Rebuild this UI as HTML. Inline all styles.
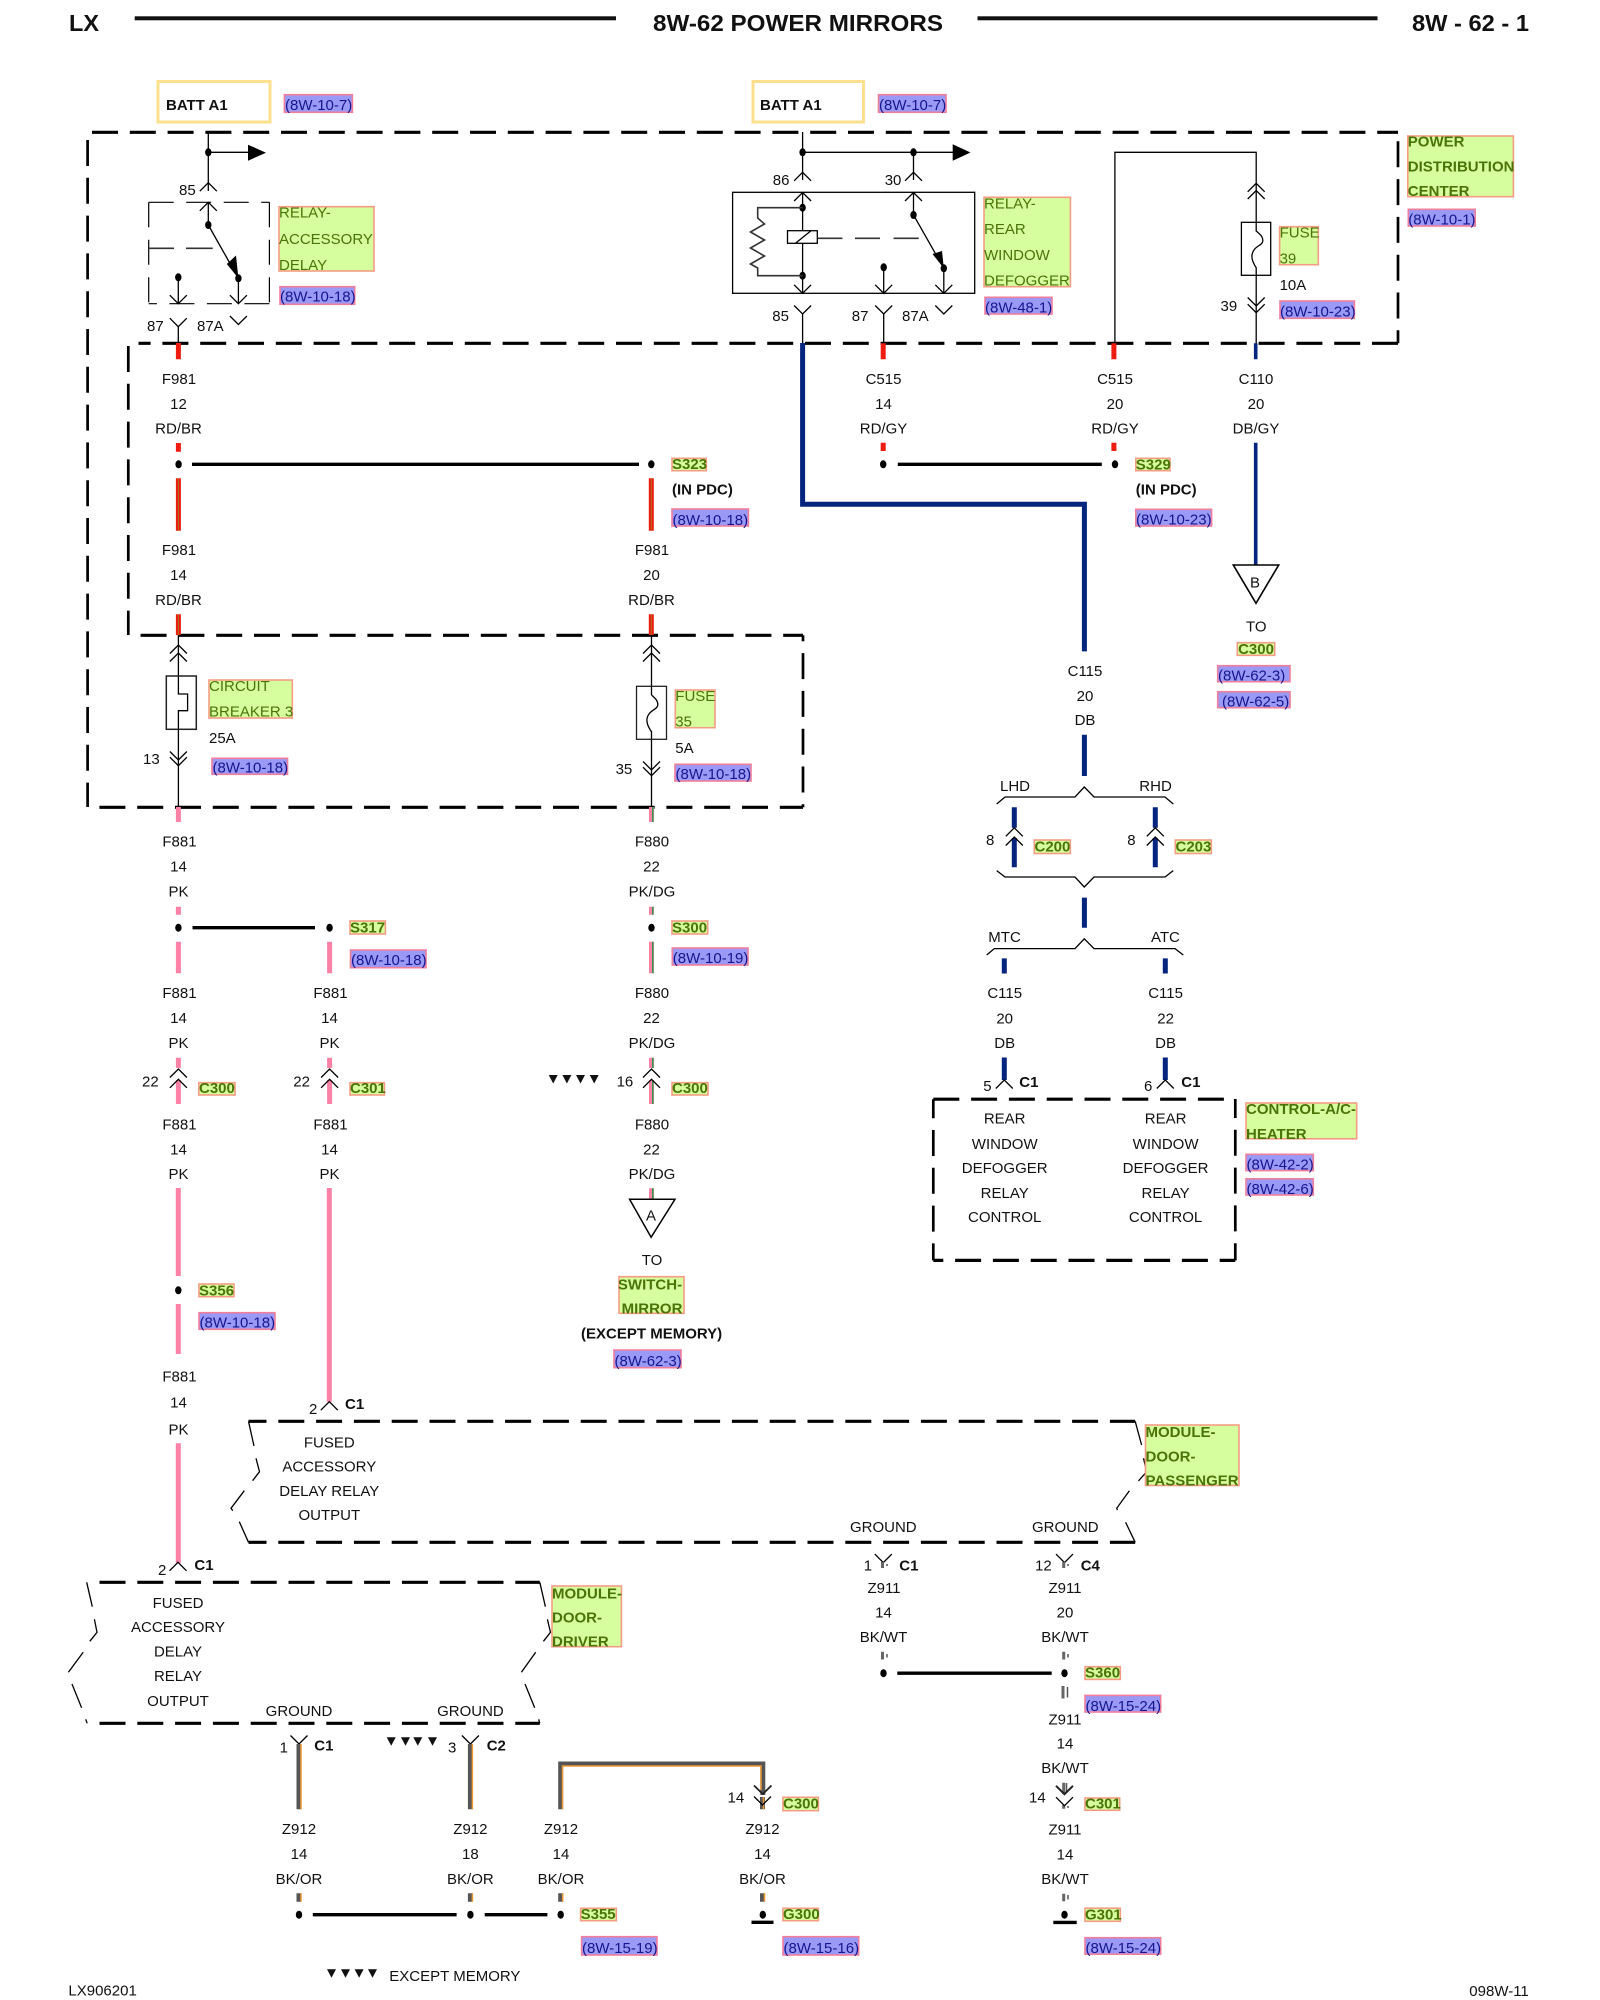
<!DOCTYPE html>
<html lang="en"><head><meta charset="utf-8"><title>8W-62 Power Mirrors</title>
<style>
html,body{margin:0;padding:0;background:#fff;width:1600px;height:2000px;overflow:hidden}
svg{display:block}
text{font-family:"Liberation Sans",Arial,sans-serif;font-size:15px;fill:#111}
.m{text-anchor:middle}
.bd{font-weight:bold}
.lg{fill:#4a7408}
.lb{fill:#4a7408;font-weight:bold}
.rf{fill:#15158f}
.g{fill:#d6fe9e;stroke:#f59c84;stroke-width:1.6}
.b{fill:#9a9af6;stroke:#f07f9c;stroke-width:1.6}
.da{fill:none;stroke:#000;stroke-width:3.2;stroke-dasharray:26 11.8}
.dv{fill:none;stroke:#000;stroke-width:2.7;stroke-dasharray:26 11.8}
.th{fill:none;stroke:#000;stroke-width:1.3}
.thg{fill:none;stroke:#333;stroke-width:1.6}
.sp{stroke:#000;stroke-width:3.4}
.rd{stroke:#ee1c10;stroke-width:5}
.rb{stroke:#a8701c;stroke-width:1}
.pk{stroke:#fb82a6;stroke-width:5}
.dg{stroke:#2a9a4a;stroke-width:1.5}
.db{stroke:#04247e;stroke-width:5}
.dk{stroke:#555;stroke-width:5}
.or{stroke:#f09a30;stroke-width:1.5}
.wt{stroke:#666;stroke-width:3}
.rl{fill:none;stroke:#000;stroke-width:1.2;stroke-dasharray:25 12.5}
</style></head><body>
<svg xmlns="http://www.w3.org/2000/svg" width="1600" height="2000" viewBox="0 0 1600 2000">
<defs>
<path id="cu" d="M-8.5 8.5L0 0L8.5 8.5" fill="none" stroke="#000" stroke-width="1.3"/>
<path id="cd" d="M-8.5 -8.5L0 0L8.5 -8.5" fill="none" stroke="#000" stroke-width="1.3"/>
<ellipse id="dot" cx="0" cy="0" rx="3.2" ry="4" fill="#000"/>
<path id="tri" d="M0 0H9L4.5 8.5Z" fill="#111"/>
</defs>
<rect width="1600" height="2000" fill="#fff"/>

<!-- header -->
<text x="69" y="31" class="bd" style="font-size:23px" textLength="30" lengthAdjust="spacingAndGlyphs">LX</text>
<rect x="134.7" y="16.3" width="481.3" height="4" fill="#111"/>
<text x="653" y="31" class="bd" style="font-size:23px" textLength="290" lengthAdjust="spacingAndGlyphs">8W-62 POWER MIRRORS</text>
<rect x="977.5" y="16.3" width="400" height="4" fill="#111"/>
<text x="1412" y="31" class="bd" style="font-size:23px" textLength="117" lengthAdjust="spacingAndGlyphs">8W - 62 - 1</text>

<!-- BATT -->
<rect x="158" y="81.5" width="112" height="40.5" fill="#fff" stroke="#fde08e" stroke-width="3"/>
<text x="166" y="110" class="bd">BATT A1</text>
<rect x="284.4" y="94.7" width="68" height="17.6" class="b"/><text x="285" y="110" class="rf">(8W-10-7)</text>
<rect x="753" y="81.5" width="110.5" height="40.5" fill="#fff" stroke="#fde08e" stroke-width="3"/>
<text x="760" y="110" class="bd">BATT A1</text>
<rect x="878.5" y="94.7" width="67.5" height="17.6" class="b"/><text x="879" y="110" class="rf">(8W-10-7)</text>

<!-- outer dashed PDC -->
<path class="da" d="M92 132.3H1398"/>
<path class="dv" d="M87.6 140V807"/>
<path class="dv" d="M1398 132.3V343.3" style="stroke-dashoffset:28.8"/>
<path class="da" d="M1398 343.3H138.5"/>
<path class="dv" d="M128.3 346V635"/>
<path class="da" d="M140.6 635.3H803"/>
<path class="dv" d="M803 635.3V807.3" style="stroke-dashoffset:20"/>
<path class="da" d="M99.4 807.3H803"/>

<!-- relay accessory delay -->
<path class="th" d="M208.3 132V191M208.3 202V225M208.3 152.3H250"/>
<use href="#dot" x="208.3" y="152.3"/>
<path d="M248 144.7L266 152.7L248 160.7Z" fill="#000"/>
<use href="#cu" x="208.3" y="182.7"/>
<text x="179" y="195">85</text>
<path class="rl" d="M148.7 202.3H269.4"/>
<path class="rl" d="M148.7 202.3V303.7"/>
<path class="rl" d="M269.4 202.3V303.7"/>
<path class="rl" d="M269.4 303.7H148.7"/>
<use href="#cu" x="208.3" y="202.3"/>
<use href="#dot" x="208.3" y="225"/>
<path class="th" d="M208.3 225L238.4 278.3"/>
<path d="M226.8 264L236 255.5L238.4 278.3Z" fill="#000"/>
<use href="#dot" x="238.4" y="278.3"/>
<path class="thg" d="M148.7 248.3H174M186 248.3H212.7"/>
<use href="#dot" x="178.3" y="277.3"/>
<path class="th" d="M178.3 277V303.7M238.4 278V303.7"/>
<use href="#cd" x="178.3" y="303.7"/><use href="#cd" x="238.4" y="303.7"/>
<use href="#cd" x="178.3" y="326.7"/><path class="th" d="M178.3 326.7V344"/>
<use href="#cd" x="238.4" y="324.5"/>
<text x="147" y="331">87</text><text x="197" y="331">87A</text>
<rect x="279" y="206.7" width="95" height="64.3" class="g"/>
<text x="279" y="217.7" class="lg">RELAY-</text><text x="279" y="244" class="lg">ACCESSORY</text><text x="279" y="270" class="lg">DELAY</text>
<rect x="280" y="286.7" width="74.7" height="17.6" class="b"/><text x="280" y="301.7" class="rf">(8W-10-18)</text>

<!-- relay rear window defogger -->
<path class="th" d="M802.6 132V180M802.6 152.3H954M913.5 152.3V180"/>
<use href="#dot" x="802.6" y="152.3"/><use href="#dot" x="913.5" y="152.3"/>
<path d="M952.7 144.3L970.5 152.5L952.7 160.7Z" fill="#000"/>
<use href="#cu" x="802.6" y="172.3"/><use href="#cu" x="913.5" y="172.3"/>
<text x="772.8" y="185">86</text><text x="884.7" y="185">30</text>
<rect x="732.6" y="192.3" width="242.1" height="101" fill="#fff" stroke="#000" stroke-width="1.3"/>
<use href="#cu" x="802.6" y="192.5"/><use href="#cu" x="913.5" y="192.5"/>
<path class="th" d="M802.6 192.5V293.3M913.5 192.5V215L943.8 268.3V293.3M883.7 267V293.3"/>
<use href="#dot" x="802.6" y="207.7"/><use href="#dot" x="802.6" y="275.7"/><use href="#dot" x="913.5" y="215"/><use href="#dot" x="883.7" y="267.3"/><use href="#dot" x="943.8" y="268.3"/>
<path class="thg" d="M802.6 207.7H757.7V218L764.5 224L750.5 232L764.5 240L750.5 248L764.5 256L750.5 264L757.7 268V275.7H802.6"/>
<path d="M932.5 254L942 251L943.8 268.3Z" fill="#000"/>
<rect x="787.5" y="230.7" width="29.8" height="12.6" fill="#fff" stroke="#000" stroke-width="1.3"/>
<path class="th" d="M795.5 243.3L811 230.7"/>
<path class="thg" d="M817.3 238.3H842.4M855 238.3H880M893.6 238.3H918.7"/>
<use href="#cd" x="802.6" y="293.3"/><use href="#cd" x="883.7" y="293.3"/><use href="#cd" x="943.8" y="293.3"/>
<use href="#cd" x="802.6" y="314"/><use href="#cd" x="883.7" y="314"/><use href="#cd" x="943.8" y="314"/>
<path class="th" d="M802.6 314V344M883.7 314V344"/>
<text x="772.3" y="321">85</text><text x="851.8" y="321">87</text><text x="902" y="321">87A</text>
<rect x="984" y="197.3" width="86.4" height="89.4" class="g"/>
<text x="984" y="208.3" class="lg">RELAY-</text><text x="984" y="234" class="lg">REAR</text><text x="984" y="260" class="lg">WINDOW</text><text x="984" y="285.7" class="lg">DEFOGGER</text>
<rect x="985" y="297.3" width="67" height="16.7" class="b"/><text x="985" y="312.3" class="rf">(8W-48-1)</text>

<!-- fuse 39 -->
<path class="th" d="M1114.9 344V152.3H1256.2V222.3M1256.2 275V343.5"/>
<use href="#cu" x="1256.2" y="183.3"/><use href="#cu" x="1256.2" y="190.5"/>
<rect x="1241.4" y="222.3" width="29.3" height="53" fill="#fff" stroke="#000" stroke-width="1.3"/>
<path class="th" d="M1256.2 222.3V231C1261 235 1263 237 1262.8 241C1262.5 245 1256.2 246 1254 250C1251 254 1251 260 1256.2 267.7V275.3"/>
<use href="#cd" x="1256.2" y="306"/><use href="#cd" x="1256.2" y="312.7"/>
<rect x="1279.6" y="226.7" width="38.7" height="38" class="g"/>
<text x="1279.6" y="237.7" class="lg">FUSE</text><text x="1279.6" y="263.3" class="lg">39</text>
<text x="1279.6" y="290">10A</text><text x="1220.5" y="311">39</text>
<rect x="1280" y="301" width="74.4" height="17.3" class="b"/><text x="1280" y="316.7" class="rf">(8W-10-23)</text>
<rect x="1407.8" y="136" width="105.6" height="60.7" class="g"/>
<text x="1407.8" y="146.7" class="lb">POWER</text><text x="1407.8" y="171.7" class="lb">DISTRIBUTION</text><text x="1407.8" y="196" class="lb">CENTER</text>
<rect x="1408.3" y="209.3" width="66.9" height="16.7" class="b"/><text x="1408.3" y="224.3" class="rf">(8W-10-1)</text>

<!-- F981 col A, B -->
<path class="rd" d="M178.4 343V359.3M178.4 443V451.7M178.4 478.3V530.7M178.4 614.3V635M651.3 478.3V530.7M651.3 614.3V635M883.2 343.3V359.3M883.2 442.7V451M1113.9 343.3V359.3M1113.9 442.7V451"/>
<path class="rb" d="M178.4 478.3V530.7M651.3 478.3V530.7M178.4 614.3V635M651.3 614.3V635"/>
<text x="179" y="384" class="m">F981</text><text x="178.5" y="409" class="m">12</text><text x="178.5" y="433.3" class="m">RD/BR</text>
<text x="179" y="555" class="m">F981</text><text x="178.5" y="580" class="m">14</text><text x="178.5" y="605" class="m">RD/BR</text>
<text x="652" y="555" class="m">F981</text><text x="651.5" y="580" class="m">20</text><text x="651.5" y="605" class="m">RD/BR</text>
<text x="883.5" y="384" class="m">C515</text><text x="883.5" y="409" class="m">14</text><text x="883.5" y="433.3" class="m">RD/GY</text>
<text x="1115" y="384" class="m">C515</text><text x="1115" y="409" class="m">20</text><text x="1115" y="433.3" class="m">RD/GY</text>
<text x="1256" y="384" class="m">C110</text><text x="1256" y="409" class="m">20</text><text x="1256" y="433.3" class="m">DB/GY</text>
<use href="#dot" x="178.6" y="464.3"/><use href="#dot" x="651.3" y="464.3"/>
<path class="sp" d="M192 464.3H639M897.8 464.3H1101.8"/>
<use href="#dot" x="883.2" y="464.3"/><use href="#dot" x="1115" y="464.3"/>
<rect x="672" y="458.3" width="34.3" height="12.4" class="g"/><text x="672" y="469" class="lb">S323</text>
<text x="672" y="494.3" class="bd">(IN PDC)</text>
<rect x="672" y="509" width="76.4" height="17" class="b"/><text x="672.5" y="525" class="rf">(8W-10-18)</text>
<rect x="1135.8" y="458.3" width="34.2" height="12.4" class="g"/><text x="1135.8" y="469.3" class="lb">S329</text>
<text x="1135.8" y="494.3" class="bd">(IN PDC)</text>
<rect x="1135.8" y="509.3" width="75.8" height="16.7" class="b"/><text x="1136" y="524.3" class="rf">(8W-10-23)</text>

<!-- DB main -->
<path d="M802.6 343V504.3H1084.4V651.4" fill="none" stroke="#04247e" stroke-width="5"/>
<path stroke="#04247e" stroke-width="3.6" d="M1255.7 343.3V359.3M1255.7 442.7V565"/>
<path d="M1233.3 565H1278.7L1256 603.3Z" fill="#fff" stroke="#000" stroke-width="1.6"/>
<text x="1255" y="587.3" class="m">B</text>
<text x="1256.3" y="631.3" class="m">TO</text>
<rect x="1237.3" y="642.7" width="37.4" height="12.6" class="g"/><text x="1256" y="654" class="lb m">C300</text>
<rect x="1217.7" y="665.7" width="72.3" height="16" class="b"/><text x="1218" y="680.5" class="rf">(8W-62-3)</text>
<rect x="1217.7" y="691.7" width="72.3" height="16" class="b"/><text x="1222" y="706.5" class="rf">(8W-62-5)</text>

<!-- fuses on 635-807 -->
<path class="th" d="M178.4 635V694H187.6V710.7H178.4V807M651.5 635V695M651.5 731V807"/>
<use href="#cu" x="178.4" y="645"/><use href="#cu" x="178.4" y="653"/><use href="#cu" x="651.5" y="645"/><use href="#cu" x="651.5" y="653"/>
<rect x="166.3" y="676" width="30" height="53.3" fill="none" stroke="#222" stroke-width="1.5"/>
<rect x="636.5" y="686.3" width="30" height="53" fill="none" stroke="#222" stroke-width="1.3"/>
<path class="th" d="M651.5 695C656 699 658 701 657.8 705C657.5 709 651.5 710 649 714C646 718 646 724 651.5 731.7"/>
<use href="#cd" x="178.4" y="760"/><use href="#cd" x="178.4" y="765.7"/><use href="#cd" x="651.5" y="770"/><use href="#cd" x="651.5" y="775.7"/>
<rect x="209" y="680" width="83.3" height="38" class="g"/><text x="209" y="691" class="lg">CIRCUIT</text><text x="209" y="716.7" class="lg">BREAKER 3</text>
<text x="209" y="743">25A</text><text x="143" y="764">13</text>
<rect x="212" y="758.3" width="75.5" height="16" class="b"/><text x="212.5" y="772.7" class="rf">(8W-10-18)</text>
<rect x="675.3" y="690" width="39.7" height="37.7" class="g"/><text x="675.3" y="701" class="lg">FUSE</text><text x="675.3" y="726.7" class="lg">35</text>
<text x="675.3" y="753">5A</text><text x="615.6" y="774">35</text>
<rect x="675" y="764.3" width="76" height="16.7" class="b"/><text x="675.5" y="779" class="rf">(8W-10-18)</text>

<!-- F881/F880 -->
<path class="pk" d="M178.4 807V822M178.4 906.7V914.7M178.4 941.7V973.3M178.4 1057.7V1068M178.4 1080V1104M329.6 941.7V973.3M329.6 1057.7V1068M329.6 1080V1104M178.3 1188V1276M178.3 1304V1354M178.3 1443.3V1563M329.3 1188V1401.7"/>
<path class="pk" d="M651.5 807V822M651.5 906.7V914.7M651.5 941.7V973.3M651.5 1057.7V1068M651.5 1080V1104M651.5 1188.3V1199.3"/>
<path class="dg" d="M652.8 807V822M652.8 906.7V914.7M652.8 941.7V973.3M652.8 1057.7V1068M652.8 1080V1104M652.8 1188.3V1199.3"/>
<text x="179.5" y="846.7" class="m">F881</text><text x="178.5" y="871.7" class="m">14</text><text x="178.5" y="896.7" class="m">PK</text>
<text x="652" y="846.7" class="m">F880</text><text x="651.5" y="871.7" class="m">22</text><text x="652" y="896.7" class="m">PK/DG</text>
<use href="#dot" x="178.4" y="927.7"/><use href="#dot" x="329.6" y="927.7"/><use href="#dot" x="651.5" y="927.7"/>
<path class="sp" d="M192.5 927.7H315"/>
<rect x="350" y="921" width="35.4" height="13" class="g"/><text x="350" y="932.7" class="lb">S317</text>
<rect x="350.5" y="950" width="75.5" height="17.7" class="b"/><text x="351" y="965" class="rf">(8W-10-18)</text>
<rect x="672" y="921" width="35.7" height="13" class="g"/><text x="672" y="932.7" class="lb">S300</text>
<rect x="672.3" y="948" width="75.7" height="17" class="b"/><text x="672.8" y="963" class="rf">(8W-10-19)</text>
<text x="179.5" y="997.8" class="m">F881</text><text x="178.5" y="1022.8" class="m">14</text><text x="178.5" y="1047.8" class="m">PK</text>
<text x="330.5" y="997.8" class="m">F881</text><text x="329.5" y="1022.8" class="m">14</text><text x="329.5" y="1047.8" class="m">PK</text>
<text x="652" y="997.8" class="m">F880</text><text x="651.5" y="1022.8" class="m">22</text><text x="652" y="1047.8" class="m">PK/DG</text>
<use href="#cu" x="178.4" y="1069"/><use href="#cu" x="178.4" y="1079.3"/><use href="#cu" x="329.6" y="1069"/><use href="#cu" x="329.6" y="1079.3"/><use href="#cu" x="651.5" y="1069"/><use href="#cu" x="651.5" y="1079.3"/>
<text x="142" y="1086.7">22</text><text x="293.3" y="1086.7">22</text><text x="616.6" y="1086.7">16</text>
<rect x="198.8" y="1082.7" width="36.2" height="12.3" class="g"/><text x="199" y="1093" class="lb">C300</text>
<rect x="350" y="1082.7" width="34.4" height="12.3" class="g"/><text x="350" y="1093" class="lb">C301</text>
<rect x="672" y="1082.7" width="36" height="12.3" class="g"/><text x="672" y="1093" class="lb">C300</text>
<use href="#tri" x="548.7" y="1075"/><use href="#tri" x="562.4" y="1075"/><use href="#tri" x="576" y="1075"/><use href="#tri" x="589.7" y="1075"/>
<text x="179.5" y="1129.3" class="m">F881</text><text x="178.5" y="1154.3" class="m">14</text><text x="178.5" y="1179" class="m">PK</text>
<text x="330.5" y="1129.3" class="m">F881</text><text x="329.5" y="1154.3" class="m">14</text><text x="329.5" y="1179" class="m">PK</text>
<text x="652" y="1129.3" class="m">F880</text><text x="651.5" y="1154.3" class="m">22</text><text x="652" y="1179" class="m">PK/DG</text>
<path d="M629.6 1199.3H675L651.1 1237.3Z" fill="#fff" stroke="#000" stroke-width="1.5"/>
<text x="651" y="1220.7" class="m">A</text>
<text x="652" y="1265" class="m">TO</text>
<rect x="619" y="1276.7" width="65" height="36.6" class="g"/>
<text x="650" y="1289.3" class="lb m">SWITCH-</text><text x="652" y="1313.3" class="lb m">MIRROR</text>
<text x="651.6" y="1338.3" class="bd m">(EXCEPT MEMORY)</text>
<rect x="614" y="1350" width="67" height="17.7" class="b"/><text x="614.5" y="1366" class="rf">(8W-62-3)</text>
<use href="#dot" x="178.3" y="1290.3"/>
<rect x="199" y="1284" width="35" height="12.7" class="g"/><text x="199" y="1295.7" class="lb">S356</text>
<rect x="199" y="1312.7" width="76" height="16.6" class="b"/><text x="199.5" y="1327.7" class="rf">(8W-10-18)</text>
<text x="179.5" y="1381.7" class="m">F881</text><text x="178.5" y="1407.3" class="m">14</text><text x="178.5" y="1434.3" class="m">PK</text>

<!-- C115 branch -->
<text x="1085" y="676.2" class="m">C115</text><text x="1085" y="701.2" class="m">20</text><text x="1085" y="725.2" class="m">DB</text>
<path class="db" d="M1084.4 734.7V776M1014.3 807.3V827.8M1014.3 838V867.3M1155.3 807.3V827.8M1155.3 838V867.3M1084.4 897.6V927.8M1004.3 958.4V973.5M1165.3 958.4V973.5M1004.3 1057.5V1080M1165.3 1057.5V1080"/>
<path class="th" d="M996.7 804L1005 797H1075L1084.3 787L1094 797H1165L1173.3 804"/>
<text x="1000" y="791">LHD</text><text x="1139.3" y="791">RHD</text>
<use href="#cu" x="1014.3" y="827.8"/><use href="#cu" x="1014.3" y="837"/><use href="#cu" x="1155.3" y="827.8"/><use href="#cu" x="1155.3" y="837"/>
<text x="986" y="845">8</text><text x="1127.3" y="845">8</text>
<rect x="1034.3" y="840" width="36" height="13.5" class="g"/><text x="1034.5" y="851.4" class="lb">C200</text>
<rect x="1175.3" y="840" width="36" height="13.5" class="g"/><text x="1175.5" y="851.4" class="lb">C203</text>
<path class="th" d="M996.7 870.6L1005 877H1075L1084.3 887L1094 877H1165L1173.3 870.6"/>
<path class="th" d="M986.7 955L994.3 948.6H1075L1084.3 938.8L1094 948.6H1175L1183.3 955"/>
<text x="988.3" y="942">MTC</text><text x="1151" y="942">ATC</text>
<text x="1004.7" y="998" class="m">C115</text><text x="1004.7" y="1023.5" class="m">20</text><text x="1004.7" y="1048" class="m">DB</text>
<text x="1165.6" y="998" class="m">C115</text><text x="1165.6" y="1023.5" class="m">22</text><text x="1165.6" y="1048" class="m">DB</text>
<use href="#cu" x="1004.3" y="1080"/><use href="#cu" x="1165.3" y="1080"/>
<text x="983.3" y="1091">5</text><text x="1144" y="1091">6</text>
<text x="1019.3" y="1087" class="bd">C1</text><text x="1181.3" y="1087" class="bd">C1</text>
<path class="da" d="M933.3 1099.2H1235"/>
<path class="dv" d="M933.3 1099.2V1260.4" style="stroke-dashoffset:7"/>
<path class="dv" d="M1235.3 1099V1260.4" style="stroke-dashoffset:7"/>
<path class="da" d="M933.3 1260.4H1235.3" style="stroke-dashoffset:16"/>
<text x="1004.7" y="1123.6" class="m">REAR</text><text x="1004.7" y="1149" class="m">WINDOW</text><text x="1004.7" y="1173" class="m">DEFOGGER</text><text x="1004.7" y="1198" class="m">RELAY</text><text x="1004.7" y="1222" class="m">CONTROL</text>
<text x="1165.6" y="1123.6" class="m">REAR</text><text x="1165.6" y="1149" class="m">WINDOW</text><text x="1165.6" y="1173" class="m">DEFOGGER</text><text x="1165.6" y="1198" class="m">RELAY</text><text x="1165.6" y="1222" class="m">CONTROL</text>
<rect x="1246" y="1103" width="110.7" height="35.8" class="g"/>
<text x="1246" y="1114.2" class="lb">CONTROL-A/C-</text><text x="1246" y="1138.8" class="lb">HEATER</text>
<rect x="1246" y="1154.3" width="67.3" height="16.3" class="b"/><text x="1246.5" y="1169.5" class="rf">(8W-42-2)</text>
<rect x="1246" y="1178.8" width="67.3" height="16.2" class="b"/><text x="1246.5" y="1194" class="rf">(8W-42-6)</text>

<!-- passenger module -->
<use href="#cu" x="329.3" y="1401.7"/>
<text x="309" y="1414">2</text><text x="345" y="1409" class="bd">C1</text>
<path class="da" d="M248.5 1421.3H1135.2" style="stroke-dashoffset:8"/>
<path class="da" d="M248.5 1542.3H1135.2" style="stroke-dashoffset:8"/>
<path class="th" d="M248.5 1421.3L254 1446M256 1458.3L259.5 1471.7L252.6 1480.7M244.3 1490.7L231 1508.3L232.8 1510.7M239.3 1521.7L248.5 1542.3"/>
<path class="th" d="M1135.2 1421.3L1141.6 1445M1143.5 1458.3L1146.7 1471.7L1138.4 1481M1129.4 1490.7L1116.7 1508.3L1117.5 1510M1125.6 1522.3L1135.2 1542.3"/>
<text x="329.3" y="1447.3" class="m">FUSED</text><text x="329.3" y="1471.3" class="m">ACCESSORY</text><text x="329.3" y="1496" class="m">DELAY RELAY</text><text x="329.3" y="1520" class="m">OUTPUT</text>
<text x="883.3" y="1532" class="m">GROUND</text><text x="1065.3" y="1532" class="m">GROUND</text>
<rect x="1145.5" y="1425" width="93.5" height="60.5" class="g"/>
<text x="1145.5" y="1437" class="lb">MODULE-</text><text x="1145.5" y="1461.5" class="lb">DOOR-</text><text x="1145.5" y="1485.5" class="lb">PASSENGER</text>

<!-- Z911 -->
<use href="#cd" x="883.3" y="1562.6"/><use href="#cd" x="1064.5" y="1562.6"/>
<path class="wt" d="M882.5 1562V1568M1063.7 1562V1568M882.5 1651.8V1659.5M1063.7 1651.8V1659.5M1063 1686V1698.5M1063.7 1782.7V1794M1063.7 1805V1808.7M1063.7 1893.7V1901.3"/>
<path stroke="#555" stroke-width="1.5" d="M887 1564V1566M1068 1564V1566M887 1654V1657.5M1068 1654V1657.5M1067.5 1687V1697.5M1066.5 1783V1792M1068 1806V1808M1068 1895V1899.5"/>
<text x="863.7" y="1570.3">1</text><text x="899.3" y="1570.3" class="bd">C1</text>
<text x="1035" y="1570.3">12</text><text x="1080.7" y="1570.3" class="bd">C4</text>
<text x="884" y="1593" class="m">Z911</text><text x="883.5" y="1617.4" class="m">14</text><text x="883.5" y="1642.2" class="m">BK/WT</text>
<text x="1065" y="1593" class="m">Z911</text><text x="1065" y="1617.4" class="m">20</text><text x="1065" y="1642.2" class="m">BK/WT</text>
<use href="#dot" x="883.5" y="1673.2"/><use href="#dot" x="1064.5" y="1673.2"/>
<path class="sp" d="M897.3 1673.2H1051.7"/>
<rect x="1085" y="1666.7" width="35.3" height="12.7" class="g"/><text x="1085" y="1677.5" class="lb">S360</text>
<rect x="1085" y="1695.4" width="75.7" height="16.6" class="b"/><text x="1085.5" y="1710.8" class="rf">(8W-15-24)</text>
<text x="1065" y="1724.5" class="m">Z911</text><text x="1065" y="1748.3" class="m">14</text><text x="1065" y="1773" class="m">BK/WT</text>
<path d="M1056 1785.8L1064.5 1794.2L1073 1785.8" fill="none" stroke="#222" stroke-width="2"/>
<use href="#cd" x="1064.5" y="1805.7"/>
<text x="1029" y="1802.6">14</text>
<rect x="1085" y="1798" width="34.7" height="12.3" class="g"/><text x="1085" y="1808.5" class="lb">C301</text>
<text x="1065" y="1834.4" class="m">Z911</text><text x="1065" y="1859.3" class="m">14</text><text x="1065" y="1884" class="m">BK/WT</text>
<use href="#dot" x="1064.5" y="1914.7"/>
<path class="sp" d="M1053.3 1922.4H1076.7"/>
<rect x="1085" y="1908.2" width="35.3" height="13.1" class="g"/><text x="1085" y="1919.5" class="lb">G301</text>
<rect x="1085" y="1937.7" width="75.7" height="16.5" class="b"/><text x="1085.5" y="1953" class="rf">(8W-15-24)</text>

<!-- driver module -->
<use href="#cu" x="178" y="1562.3"/>
<text x="158" y="1575">2</text><text x="194.4" y="1570" class="bd">C1</text>
<path class="da" d="M99.5 1582.3H539.8"/>
<path class="da" d="M99.5 1723.3H539.8"/>
<path class="th" d="M86.7 1582.3L92.3 1606.7M94.4 1619.3L97 1632.3L89.8 1641.3M83.2 1652.3L68.4 1672.3M72 1684L81.6 1707.7M85.7 1719.3L87.2 1723.3"/>
<path class="th" d="M539.8 1582.3L545.4 1606.7M547.4 1619.3L550.5 1632.3L543.4 1641.3M535.7 1652.3L521.4 1672.3M525 1684L534.7 1707.7M538.7 1719.3L539.8 1723.3"/>
<text x="178" y="1608" class="m">FUSED</text><text x="178" y="1632" class="m">ACCESSORY</text><text x="178" y="1656.7" class="m">DELAY</text><text x="178" y="1681" class="m">RELAY</text><text x="178" y="1706" class="m">OUTPUT</text>
<text x="299" y="1716" class="m">GROUND</text><text x="470.4" y="1716" class="m">GROUND</text>
<rect x="552" y="1586" width="69.4" height="60.7" class="g"/>
<text x="552" y="1598.3" class="lb">MODULE-</text><text x="552" y="1622.3" class="lb">DOOR-</text><text x="552" y="1646.7" class="lb">DRIVER</text>

<!-- Z912 -->
<use href="#cd" x="299" y="1744"/><use href="#cd" x="470.4" y="1744"/>
<path class="dk" d="M299 1744V1809.3M470.4 1744V1809.3M299 1893.3V1901.7M470.4 1893.3V1901.7M560.7 1893.3V1901.7M762.5 1893.3V1901.7M762.5 1797V1809.3"/>
<path class="or" d="M301 1744V1809.3M472.4 1744V1809.3M301 1893.3V1901.7M472.4 1893.3V1901.7M562.7 1893.3V1901.7M764.5 1893.3V1901.7M763.5 1797V1809.3"/>
<text x="279.6" y="1752.3">1</text><text x="314.3" y="1750.7" class="bd">C1</text>
<text x="448" y="1752.3">3</text><text x="486.7" y="1750.7" class="bd">C2</text>
<use href="#tri" x="386.7" y="1737.3"/><use href="#tri" x="401" y="1737.3"/><use href="#tri" x="413.3" y="1737.3"/><use href="#tri" x="428" y="1737.3"/>
<path d="M560.7 1809.3V1764H762.8V1795" fill="none" stroke="#555" stroke-width="5"/>
<path d="M562.5 1809.3V1766H761V1790" fill="none" stroke="#f09a30" stroke-width="1.4"/>
<path d="M754 1785.5L762.8 1794L771.5 1785.5" fill="none" stroke="#222" stroke-width="1.8"/>
<use href="#cd" x="762.5" y="1805"/>
<text x="727.5" y="1802.3">14</text>
<rect x="783" y="1797.3" width="35.4" height="13.4" class="g"/><text x="783" y="1808.7" class="lb">C300</text>
<text x="299" y="1834" class="m">Z912</text><text x="299" y="1859" class="m">14</text><text x="299" y="1884" class="m">BK/OR</text>
<text x="470.4" y="1834" class="m">Z912</text><text x="470.4" y="1859" class="m">18</text><text x="470.4" y="1884" class="m">BK/OR</text>
<text x="561" y="1834" class="m">Z912</text><text x="561" y="1859" class="m">14</text><text x="561" y="1884" class="m">BK/OR</text>
<text x="762.5" y="1834" class="m">Z912</text><text x="762.5" y="1859" class="m">14</text><text x="762.5" y="1884" class="m">BK/OR</text>
<use href="#dot" x="299" y="1914.7"/><use href="#dot" x="470.4" y="1914.7"/><use href="#dot" x="560.7" y="1914.7"/><use href="#dot" x="762.8" y="1914.7"/>
<path class="sp" d="M312.8 1914.7H456.6M484.7 1914.7H547.4M751.5 1922.3H773.5"/>
<rect x="580.6" y="1908.3" width="35.7" height="12.4" class="g"/><text x="580.6" y="1919" class="lb">S355</text>
<rect x="783" y="1908.3" width="35.4" height="12.4" class="g"/><text x="783" y="1919" class="lb">G300</text>
<rect x="581.6" y="1936.7" width="75.4" height="18.3" class="b"/><text x="582" y="1953" class="rf">(8W-15-19)</text>
<rect x="783" y="1936.7" width="75.7" height="18.3" class="b"/><text x="783.5" y="1953" class="rf">(8W-15-16)</text>

<!-- legend -->
<use href="#tri" x="327" y="1969.3"/><use href="#tri" x="341" y="1969.3"/><use href="#tri" x="354.6" y="1969.3"/><use href="#tri" x="368" y="1969.3"/>
<text x="389.3" y="1981">EXCEPT MEMORY</text>
<text x="68.4" y="1995.7">LX906201</text>
<text x="1469.3" y="1996">098W-11</text>
</svg>
</body></html>
